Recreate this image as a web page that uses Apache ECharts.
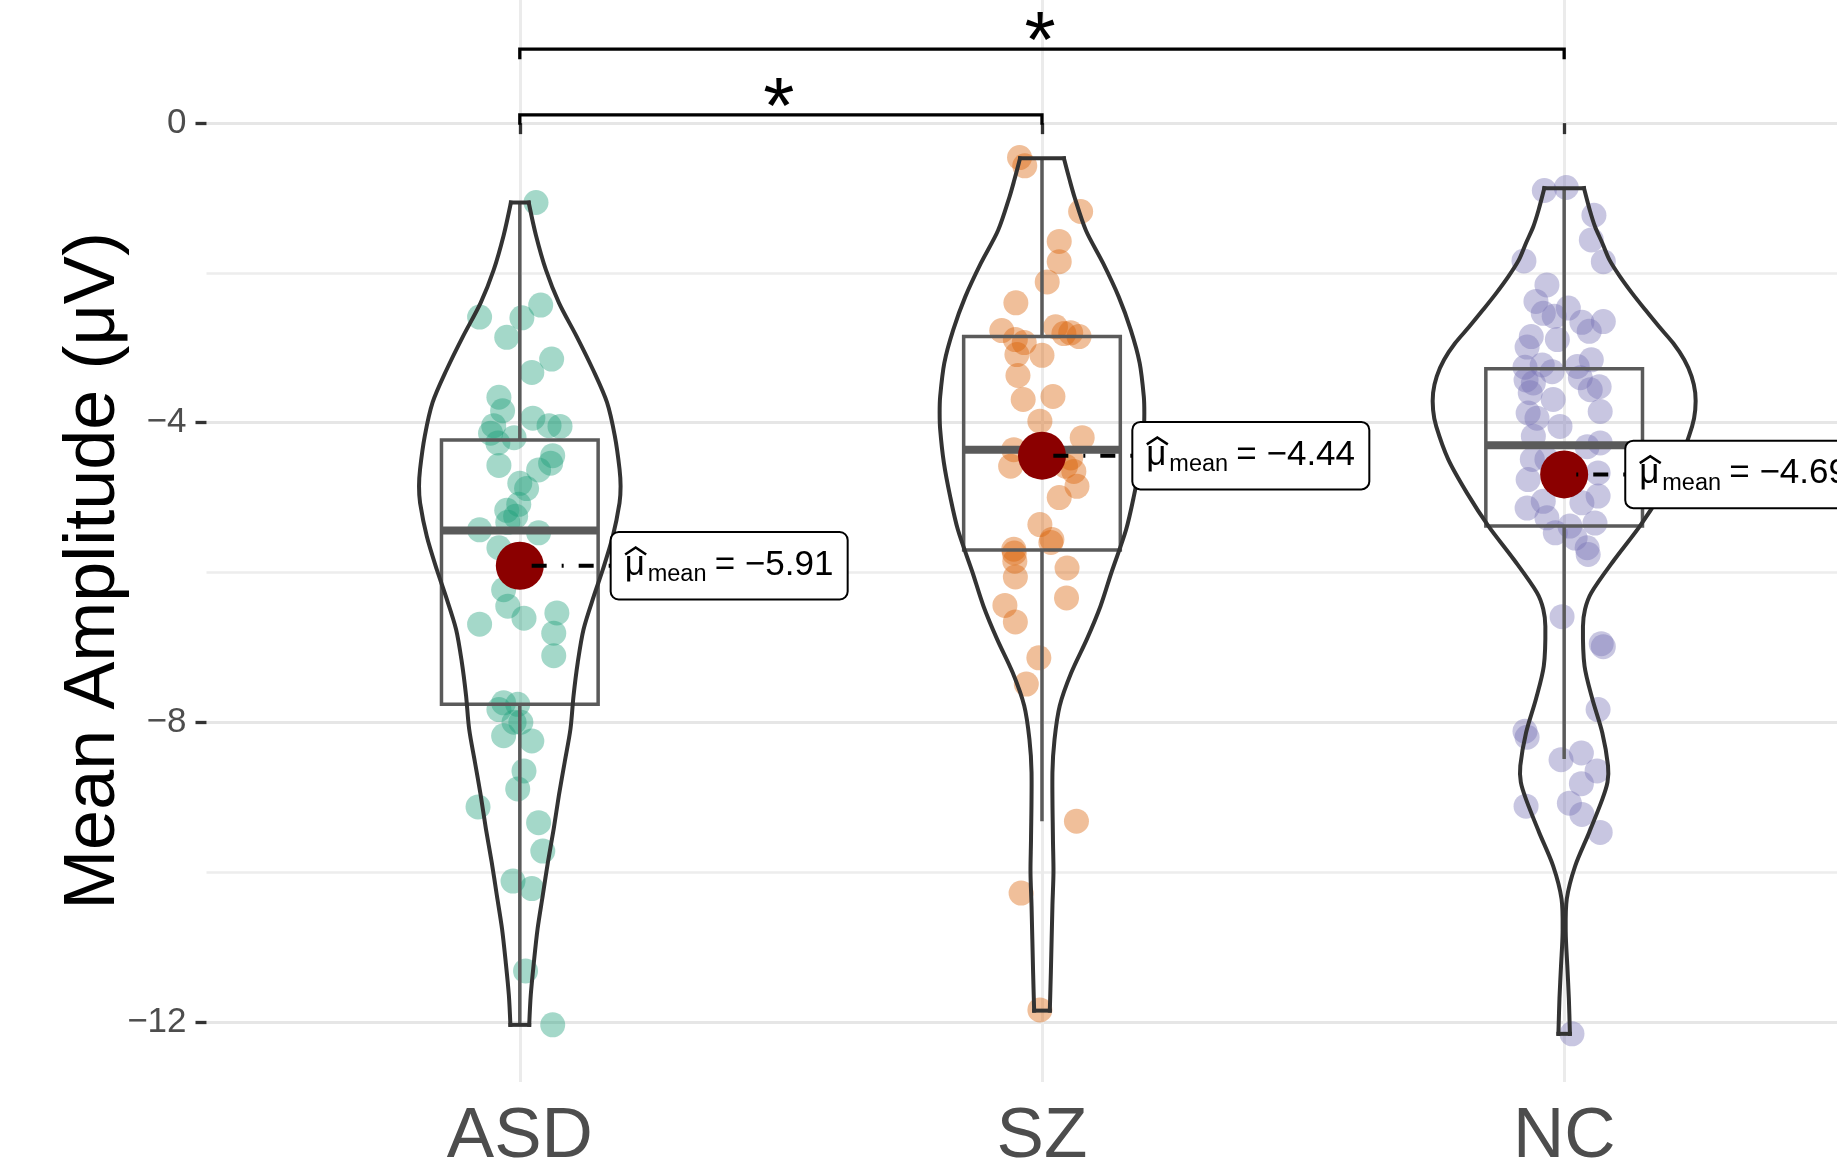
<!DOCTYPE html>
<html><head><meta charset="utf-8">
<script src="https://cdn.jsdelivr.net/npm/echarts@6/dist/echarts.min.js"></script>
<style>html,body{margin:0;padding:0;background:#fff}#chart{width:1837px;height:1173px}</style>
</head><body><div id="chart"></div>
<script>
// ---------------- data ----------------
const categories = ['ASD', 'SZ', 'NC'];
const yTickValues = [0, -4, -8, -12];
const yMinorValues = [-2, -6, -10];
const yTitle = 'Mean Amplitude (μV)';

// [horizontal jitter (category units), value]
const asdPoints = [
  [0.031,-1.06],[-0.077,-2.59],[0.004,-2.60],[0.040,-2.43],[-0.025,-2.86],[0.061,-3.15],[0.023,-3.33],
  [-0.040,-3.66],[-0.033,-3.84],[0.025,-3.94],[0.056,-4.04],[0.077,-4.05],[-0.050,-4.04],[-0.056,-4.14],
  [-0.011,-4.20],[-0.042,-4.27],[0.063,-4.44],[0.059,-4.54],[0.036,-4.63],[-0.040,-4.57],[0.000,-4.81],
  [0.013,-4.88],[-0.002,-5.09],[-0.025,-5.17],[-0.008,-5.25],[-0.077,-5.43],[0.036,-5.47],[-0.023,-5.33],
  [-0.040,-5.67],[-0.031,-6.23],[-0.023,-6.45],[-0.077,-6.69],[0.008,-6.61],[0.071,-6.54],[0.065,-6.81],
  [0.065,-7.11],[-0.031,-7.74],[-0.004,-7.76],[-0.040,-7.83],[-0.011,-8.00],[0.002,-8.00],[-0.031,-8.18],
  [0.023,-8.25],[0.008,-8.65],[-0.004,-8.89],[-0.080,-9.13],[0.036,-9.34],[0.044,-9.72],[-0.013,-10.12],
  [0.023,-10.22],[0.011,-11.32],[0.063,-12.04]
];
const szPoints = [
  [-0.043,-0.46],[-0.033,-0.57],[0.074,-1.18],[0.033,-1.58],[0.033,-1.85],[0.010,-2.12],[-0.050,-2.40],
  [-0.077,-2.77],[0.026,-2.72],[0.042,-2.81],[0.055,-2.80],[0.071,-2.85],[-0.051,-2.89],[-0.034,-2.93],
  [-0.048,-3.09],[0.000,-3.10],[-0.046,-3.37],[0.021,-3.65],[-0.036,-3.69],[-0.004,-3.98],[0.077,-4.20],
  [-0.054,-4.36],[-0.060,-4.58],[0.055,-4.47],[0.061,-4.65],[0.067,-4.85],[0.033,-5.00],[-0.004,-5.36],
  [0.019,-5.56],[-0.054,-5.69],[0.045,-4.58],[0.017,-5.60],[-0.053,-5.74],[-0.052,-5.85],[0.048,-5.94],
  [-0.051,-6.06],[0.047,-6.34],[-0.071,-6.44],[-0.051,-6.66],[-0.006,-7.14],[-0.030,-7.49],[0.066,-9.32],
  [-0.040,-10.28],[-0.004,-11.84]
];
const ncPoints = [
  [-0.038,-0.90],[0.004,-0.86],[0.057,-1.23],[0.052,-1.56],[-0.077,-1.84],[0.075,-1.85],[-0.033,-2.16],
  [-0.054,-2.38],[0.008,-2.47],[-0.040,-2.54],[-0.019,-2.58],[0.034,-2.66],[0.075,-2.65],[0.048,-2.78],
  [-0.063,-2.85],[-0.013,-2.89],[-0.071,-2.99],[0.052,-3.16],[-0.075,-3.26],[-0.042,-3.23],[-0.023,-3.32],
  [0.025,-3.25],[-0.073,-3.43],[-0.059,-3.47],[0.031,-3.40],[0.067,-3.52],[0.050,-3.56],[-0.065,-3.60],
  [-0.021,-3.69],[0.069,-3.85],[-0.069,-3.87],[-0.052,-3.94],[-0.008,-4.05],[-0.059,-4.18],[0.069,-4.27],
  [0.044,-4.32],[-0.061,-4.49],[-0.033,-4.49],[0.065,-4.67],[-0.069,-4.76],[0.065,-4.98],[-0.071,-5.14],
  [-0.040,-5.05],[0.034,-5.07],[-0.033,-5.27],[0.011,-5.38],[0.059,-5.34],[-0.017,-5.47],[0.021,-5.54],
  [0.044,-5.67],[0.046,-5.76],[-0.004,-6.59],[0.071,-6.95],[0.075,-6.99],[0.065,-7.83],[-0.075,-8.12],
  [-0.071,-8.20],[-0.006,-8.50],[0.033,-8.41],[0.063,-8.65],[0.033,-8.82],[-0.073,-9.12],[0.010,-9.08],
  [0.034,-9.23],[0.069,-9.47],[0.015,-12.16]
];

// boxplot stats: [lower whisker, Q1, median, Q3, upper whisker]
const boxStats = [
  [-12.04, -7.76, -5.44, -4.23, -1.05],
  [-9.32, -5.70, -4.36, -2.85, -0.47],
  [-8.49, -5.38, -4.30, -3.28, -0.87]
];
const meanValues = [-5.91, -4.44, -4.69];
const meanLabelX = [1.174, 2.173, 3.117];

// violin outlines: [value, half width (category units)]
const violinASD = [
  [-1.06,0.017],[-1.50,0.031],[-1.96,0.050],[-2.40,0.075],[-2.85,0.109],[-3.29,0.140],[-3.73,0.167],
  [-4.18,0.182],[-4.62,0.191],[-4.85,0.193],[-5.07,0.191],[-5.52,0.178],[-5.96,0.159],[-6.31,0.142],
  [-6.76,0.122],[-7.20,0.111],[-7.64,0.103],[-8.09,0.097],[-8.53,0.086],[-8.97,0.075],[-9.42,0.065],
  [-9.86,0.054],[-10.31,0.044],[-10.76,0.034],[-11.20,0.027],[-11.64,0.021],[-12.04,0.018]
];
const violinSZ = [
  [-0.47,0.042],[-0.76,0.053],[-0.98,0.062],[-1.43,0.084],[-1.87,0.117],[-2.32,0.147],[-2.76,0.170],
  [-3.20,0.187],[-3.65,0.195],[-3.87,0.196],[-4.09,0.195],[-4.53,0.188],[-4.98,0.176],[-5.43,0.161],
  [-6.00,0.133],[-6.45,0.112],[-6.89,0.086],[-7.34,0.056],[-7.78,0.034],[-8.23,0.024],[-8.67,0.020],
  [-9.56,0.021],[-10.00,0.022],[-10.45,0.020],[-11.34,0.017],[-11.85,0.015]
];
const violinNC = [
  [-0.87,0.038],[-1.16,0.049],[-1.38,0.059],[-1.60,0.073],[-1.83,0.087],[-2.05,0.107],[-2.27,0.130],
  [-2.49,0.155],[-2.72,0.182],[-2.94,0.209],[-3.16,0.230],[-3.38,0.244],[-3.60,0.251],[-3.83,0.251],
  [-4.05,0.245],[-4.49,0.222],[-4.94,0.186],[-5.38,0.145],[-5.83,0.096],[-6.27,0.052],[-6.49,0.040],
  [-6.72,0.036],[-7.25,0.039],[-7.69,0.054],[-8.14,0.073],[-8.58,0.084],[-8.80,0.083],[-9.03,0.073],
  [-9.47,0.048],[-9.92,0.021],[-10.36,0.005],[-10.80,0.003],[-11.25,0.006],[-11.69,0.009],[-12.16,0.011]
];

// significance brackets
const sigPairs = [[1, 2], [1, 3]];
const sigY = [0.11, 0.987];
const sigTip = 0.133;
const sigText = ['*', '*'];

// ---------------- chart ----------------
const FONT = "'Liberation Sans', Arial, Helvetica, sans-serif";
const groups = [asdPoints, szPoints, ncPoints];
const violins = [violinASD, violinSZ, violinNC];
const pointColors = ['rgba(27,158,119,0.4)', 'rgba(217,95,2,0.4)', 'rgba(117,112,179,0.4)'];
function fmtNum(v) { return v < 0 ? '\u2212' + Math.abs(v) : String(v); }

const chart = echarts.init(document.getElementById('chart'), null, { renderer: 'canvas' });
const series = [];

groups.forEach((pts, i) => {
  series.push({
    type: 'scatter', name: categories[i], z: 2, silent: true,
    data: pts.map(p => [i + 1 + p[0], p[1]]),
    symbol: 'circle', symbolSize: 25,
    itemStyle: { color: pointColors[i], opacity: 1, borderWidth: 0 }
  });
});

// boxplots
series.push({
  type: 'custom', z: 3, silent: true,
  data: boxStats.map((b, i) => [i + 1, b[2]]),
  renderItem: (params, api) => {
    const i = params.dataIndex, b = boxStats[i], c = i + 1, hw = 0.15;
    const pLo = api.coord([c, b[0]]), pQ1 = api.coord([c, b[1]]), pMed = api.coord([c, b[2]]);
    const pQ3 = api.coord([c, b[3]]), pHi = api.coord([c, b[4]]);
    const left = api.coord([c - hw, b[2]])[0], right = api.coord([c + hw, b[2]])[0];
    const st = { stroke: '#5a5a5a', lineWidth: 3.5, fill: 'none' };
    return { type: 'group', children: [
      { type: 'line', shape: { x1: pQ1[0], y1: pQ1[1], x2: pLo[0], y2: pLo[1] }, style: st },
      { type: 'line', shape: { x1: pQ3[0], y1: pQ3[1], x2: pHi[0], y2: pHi[1] }, style: st },
      { type: 'rect', shape: { x: left, y: pQ3[1], width: right - left, height: pQ1[1] - pQ3[1] }, style: st },
      { type: 'line', shape: { x1: left, y1: pMed[1], x2: right, y2: pMed[1] }, style: { stroke: '#5a5a5a', lineWidth: 8, fill: 'none' } }
    ]};
  }
});

// violins
series.push({
  type: 'custom', z: 4, silent: true,
  data: violins.map((v, i) => [i + 1, v[0][0]]),
  renderItem: (params, api) => {
    const i = params.dataIndex, prof = violins[i], c = i + 1, n = prof.length;
    const R = prof.map(p => api.coord([c + p[1], p[0]]));
    const L = prof.map(p => api.coord([c - p[1], p[0]]));
    const st = { stroke: '#333333', lineWidth: 4, fill: 'none', lineCap: 'square', lineJoin: 'round' };
    return { type: 'group', children: [
      { type: 'polyline', shape: { points: R, smooth: 0.3 }, style: st },
      { type: 'polyline', shape: { points: L, smooth: 0.3 }, style: st },
      { type: 'line', shape: { x1: L[0][0], y1: L[0][1], x2: R[0][0], y2: R[0][1] }, style: st },
      { type: 'line', shape: { x1: L[n-1][0], y1: L[n-1][1], x2: R[n-1][0], y2: R[n-1][1] }, style: st }
    ]};
  }
});

// significance brackets
series.push({
  type: 'custom', z: 3, silent: true,
  data: sigPairs.map((p, i) => [(p[0] + p[1]) / 2, sigY[i]]),
  renderItem: (params, api) => {
    const i = params.dataIndex, pr = sigPairs[i];
    const a = api.coord([pr[0], sigY[i]]), b = api.coord([pr[1], sigY[i]]);
    const t = api.coord([pr[0], sigY[i] - sigTip]);
    const mid = api.coord([(pr[0] + pr[1]) / 2, sigY[i]]);
    return { type: 'group', children: [
      { type: 'polyline', shape: { points: [[a[0], t[1]], [a[0], a[1]], [b[0], b[1]], [b[0], t[1]]] },
        style: { stroke: '#000', lineWidth: 3.3, fill: 'none' } },
      { type: 'text', x: mid[0] - 2, y: mid[1] - 4, style: { text: sigText[i], font: '80px ' + FONT, fill: '#000', align: 'center', verticalAlign: 'middle' } }
    ]};
  }
});

// mean points
series.push({
  type: 'scatter', z: 5, silent: true,
  data: meanValues.map((m, i) => [i + 1, m]),
  symbol: 'circle', symbolSize: 48,
  itemStyle: { color: '#8B0000', opacity: 1 }
});

// mean labels with connector segments
series.push({
  type: 'custom', z: 6, silent: true,
  data: meanValues.map((m, i) => [meanLabelX[i], m]),
  renderItem: (params, api) => {
    const i = params.dataIndex;
    const p0 = api.coord([meanLabelX[i], meanValues[i]]);
    const pm = api.coord([i + 1, meanValues[i]]);
    const W = 237, H = 67.5, x0 = p0[0], y0 = p0[1] - H / 2;
    return { type: 'group', children: [
      { type: 'line', shape: { x1: x0, y1: p0[1], x2: pm[0], y2: pm[1] },
        style: { stroke: '#000', lineWidth: 4, fill: 'none', lineDash: [15, 15, 2, 15], lineDashOffset: 30 } },
      { type: 'rect', shape: { x: x0, y: y0, width: W, height: H, r: 8 }, style: { fill: '#fff', stroke: '#000', lineWidth: 2 } },
      { type: 'text', x: x0 + 14, y: y0 + 33, style: { text: 'μ', font: '35px ' + FONT, fill: '#000', align: 'left', verticalAlign: 'middle' } },
      { type: 'polyline', shape: { points: [[x0 + 14.5, y0 + 22.5], [x0 + 25, y0 + 15.5], [x0 + 35.5, y0 + 22.5]] },
        style: { stroke: '#000', lineWidth: 2.5, fill: 'none' } },
      { type: 'text', x: x0 + 37, y: y0 + 43, style: { text: 'mean', font: '23.5px ' + FONT, fill: '#000', align: 'left', verticalAlign: 'middle' } },
      { type: 'text', x: x0 + 104, y: y0 + 33, style: { text: '= ' + fmtNum(meanValues[i]), font: '35px ' + FONT, fill: '#000', align: 'left', verticalAlign: 'middle' } }
    ]};
  }
});

const option = {
  animation: false,
  backgroundColor: '#ffffff',
  grid: { left: 206.5, right: 0, top: 0, bottom: 89.5, containLabel: false },
  xAxis: {
    type: 'value', min: 0.4, max: 3.5225,
    axisLine: { show: false },
    axisTick: { show: true, customValues: [1, 2, 3], length: 11, lineStyle: { color: '#333333', width: 3.3 } },
    axisLabel: { customValues: [1, 2, 3], formatter: v => categories[Math.round(v) - 1] || '',
      fontSize: 71, fontFamily: FONT, color: '#4D4D4D', margin: 20, lineHeight: 71 },
    splitLine: { show: true, lineStyle: { color: '#EBEBEB', width: 3 } }
  },
  yAxis: [
    {
      type: 'value', min: -12.803, max: 1.644, position: 'left',
      axisLine: { show: false },
      axisTick: { show: true, customValues: yTickValues, length: 11, lineStyle: { color: '#333333', width: 3.3 } },
      axisLabel: { customValues: yTickValues, formatter: v => fmtNum(v), fontSize: 35, fontFamily: FONT, color: '#4D4D4D', margin: 20 },
      splitLine: { show: true, lineStyle: { color: '#E6E6E6', width: 3 } }
    },
    {
      type: 'value', min: -12.803, max: 1.644, position: 'left',
      axisLine: { show: false },
      axisTick: { show: false, customValues: yMinorValues },
      axisLabel: { show: false, customValues: yMinorValues },
      splitLine: { show: true, lineStyle: { color: '#EDEDED', width: 2.5 } }
    }
  ],
  graphic: [{
    type: 'text', x: 94, y: 571, rotation: Math.PI / 2,
    style: { text: yTitle, font: '72px ' + FONT, fill: '#000', align: 'center', verticalAlign: 'middle' }
  }],
  series: series
};
chart.setOption(option);
</script></body></html>
